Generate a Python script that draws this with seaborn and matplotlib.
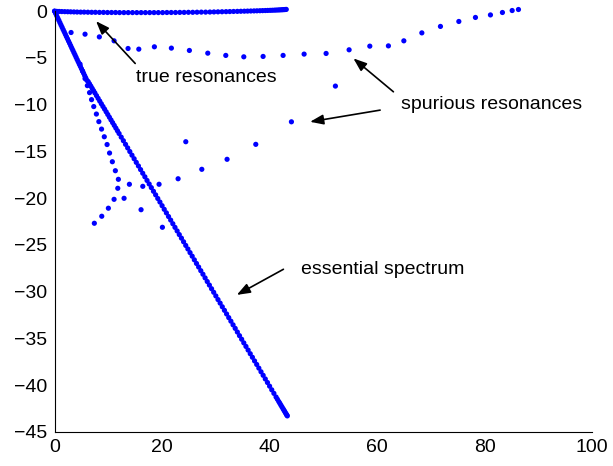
import numpy as np
import pandas as pd
import seaborn as sns
import matplotlib.pyplot as plt

# essential spectrum (dense ray from the origin)
ess_x = [0, 0.2, 0.4, 0.6, 0.8, 1.0, 1.2, 1.4, 1.6, 1.8, 2.0, 2.2, 2.4, 2.6, 2.8, 3.0,
         3.2, 3.4, 3.6, 3.8, 4.0, 4.2, 4.4, 4.6, 4.8, 5.0, 5.2, 5.4, 5.6, 5.8, 6.0,
         6.25, 6.5, 6.75, 7.0, 7.25, 7.5, 7.8, 8.1, 8.4, 8.7, 9.0, 9.3, 9.6, 9.9, 10.2,
         10.5, 10.8, 11.1, 11.4, 11.7, 12.0,
         12.4, 12.8, 13.2, 13.6, 14.0, 14.4, 14.8, 15.2, 15.6, 16.0, 16.4, 16.8, 17.2,
         17.6, 18.0, 18.4, 18.8, 19.2, 19.6, 20.0, 20.4, 20.8, 21.2, 21.6, 22.0, 22.4,
         22.8, 23.2, 23.6, 24.0, 24.4, 24.8, 25.2, 25.6, 26.0, 26.4, 26.8, 27.2, 27.6,
         28.0, 28.4, 28.8, 29.2, 29.6, 30.0, 30.4, 30.8, 31.2, 31.6, 32.0, 32.4, 32.8,
         33.2, 33.6, 34.0, 34.4, 34.8, 35.2, 35.6, 36.0, 36.4, 36.8, 37.2, 37.6, 38.0,
         38.4, 38.8, 39.2, 39.6, 40.0, 40.4, 40.8, 41.2,
         41.45, 41.7, 41.9, 42.1, 42.3, 42.5, 42.65, 42.8, 42.95, 43.1, 43.2, 43.3]
ess_y = [0, -0.25, -0.49, -0.74, -0.98, -1.23, -1.48, -1.72, -1.97, -2.21, -2.46, -2.71,
         -2.95, -3.2, -3.44, -3.69, -3.94, -4.18, -4.43, -4.67, -4.92, -5.17, -5.41,
         -5.66, -5.9, -6.15, -6.4, -6.64, -6.89, -7.13, -7.38,
         -7.53, -7.77, -8.01, -8.26, -8.50, -8.74, -9.03, -9.32, -9.61, -9.90, -10.19,
         -10.47, -10.76, -11.05, -11.34, -11.63, -11.92, -12.21, -12.50, -12.79, -13.08,
         -13.47, -13.85, -14.24, -14.62, -15.01, -15.40, -15.78, -16.17, -16.55, -16.94,
         -17.33, -17.71, -18.10, -18.48, -18.87, -19.26, -19.64, -20.03, -20.41, -20.80,
         -21.19, -21.57, -21.96, -22.34, -22.73, -23.12, -23.50, -23.89, -24.27, -24.66,
         -25.05, -25.43, -25.82, -26.20, -26.59, -26.98, -27.36, -27.75, -28.13, -28.52,
         -28.91, -29.29, -29.68, -30.06, -30.45, -30.84, -31.22, -31.61, -31.99, -32.38,
         -32.77, -33.15, -33.54, -33.92, -34.31, -34.70, -35.08, -35.47, -35.85, -36.24,
         -36.63, -37.01, -37.40, -37.78, -38.17, -38.56, -38.94, -39.33, -39.71, -40.10,
         -40.49, -40.87, -41.26,
         -41.50, -41.74, -41.93, -42.13, -42.32, -42.51, -42.66, -42.80, -42.95, -43.09,
         -43.19, -43.28]

# true resonances (just below the real axis)
true_x = [0, 0.4, 0.85, 1.35, 1.9, 2.45, 3.0, 3.6, 4.2, 4.85, 5.5, 6.2, 6.9, 7.6, 8.35,
          9.1, 9.85, 10.6, 11.35, 12.1, 12.9, 13.7, 14.5, 15.3, 16.1, 16.9, 17.7, 18.5,
          19.3, 20.1, 20.9, 21.7, 22.5, 23.3, 24.1, 24.9, 25.7, 26.5, 27.3, 28.1, 28.9,
          29.65, 30.4, 31.15, 31.9, 32.6, 33.3, 34.0, 34.65, 35.3, 35.9, 36.5, 37.1,
          37.65, 38.2, 38.7, 39.2, 39.65, 40.1, 40.5, 40.9, 41.25, 41.6, 41.9, 42.2,
          42.45, 42.7, 42.9, 43.1]
true_y = [0, -0.02, -0.03, -0.04, -0.05, -0.06, -0.07, -0.08, -0.09, -0.10, -0.10, -0.11,
          -0.12, -0.12, -0.13, -0.13, -0.14, -0.14, -0.14, -0.15, -0.15, -0.15, -0.15,
          -0.15, -0.15, -0.15, -0.15, -0.15, -0.15, -0.15, -0.14, -0.14, -0.14, -0.13,
          -0.13, -0.12, -0.12, -0.11, -0.10, -0.10, -0.09, -0.08, -0.07, -0.06, -0.05,
          -0.04, -0.03, -0.02, -0.01, 0.0, 0.01, 0.02, 0.03, 0.04, 0.05, 0.06, 0.07,
          0.08, 0.09, 0.10, 0.11, 0.12, 0.13, 0.14, 0.15, 0.16, 0.17, 0.18, 0.19]

# spurious resonances: upper arc, inner curve, scattered branch
spur_x = [3.07, 5.67, 8.33, 11.07, 13.67, 15.67, 18.57, 21.73, 25.08, 28.50, 31.85,
          35.20, 38.79, 42.51, 46.42, 50.51, 54.79, 58.64, 62.10, 64.97, 68.32, 71.78,
          75.20, 78.29, 81.08, 83.31, 85.12, 86.29,
          4.74, 5.21, 5.67, 6.10, 6.51, 6.88, 7.29, 7.78, 8.24, 8.74, 9.25, 9.77, 10.23,
          10.75, 11.31, 11.87, 11.76, 11.07, 10.01, 8.78, 7.40,
          12.93, 13.92, 16.09, 16.41, 19.44, 20.06, 22.98, 24.41, 27.39, 32.09, 37.43,
          44.06, 52.24]
spur_y = [-2.28, -2.46, -2.75, -3.17, -3.99, -4.06, -3.81, -3.95, -4.20, -4.49, -4.73,
          -4.88, -4.84, -4.73, -4.59, -4.52, -4.13, -3.74, -3.71, -3.17, -2.32, -1.63,
          -1.10, -0.67, -0.40, -0.14, 0.07, 0.18,
          -5.66, -6.41, -7.21, -7.96, -8.71, -9.46, -10.20, -11.00, -11.81, -12.61,
          -13.43, -14.26, -15.17, -16.10, -17.06, -17.98, -18.94, -20.12, -21.07,
          -21.93, -22.68,
          -20.01, -18.51, -21.23, -18.73, -18.51, -23.11, -17.92, -13.96, -16.91,
          -15.84, -14.24, -11.83, -8.01]

x_ticks = [0, 20, 40, 60, 80, 100]
y_ticks = [0, -5, -10, -15, -20, -25, -30, -35, -40, -45]

sns.set_style('white')
plt.rcParams['font.family'] = ['Liberation Sans', 'DejaVu Sans']
plt.rcParams['text.color'] = 'black'

fig = plt.figure(figsize=(6.13, 4.66), dpi=100)
ax = fig.add_axes([0.089, 0.073, 0.877, 0.903])

df = pd.concat([
    pd.DataFrame({'x': ess_x, 'y': ess_y}),
    pd.DataFrame({'x': true_x, 'y': true_y}),
    pd.DataFrame({'x': spur_x, 'y': spur_y}),
])
sns.scatterplot(data=df, x='x', y='y', color='#0000ff', s=14, linewidth=0,
                edgecolor='none', ax=ax, legend=False)
for c in ax.collections:
    c.set_clip_on(False)

ax.set_xlim(0, 100)
ax.set_ylim(-45, 0)
ax.set_xticks(x_ticks)
ax.set_yticks(y_ticks)
ax.set_xlabel('')
ax.set_ylabel('')
ax.tick_params(direction='in', length=5, width=0.8, labelsize=14, pad=5,
               colors='black')
sns.despine(ax=ax)
for sp in ['left', 'bottom']:
    ax.spines[sp].set_color('black')
    ax.spines[sp].set_linewidth(0.8)

arrow = dict(arrowstyle='-|>,head_length=0.8,head_width=0.3', color='black',
             lw=1.2, shrinkA=0, shrinkB=0)
ax.annotate('', xy=(7.72, -1.07), xytext=(15.0, -5.59), arrowprops=arrow)
ax.text(28.3, -7.05, 'true resonances', fontsize=14, ha='center', va='center',
        color='black')

ax.annotate('', xy=(55.59, -5.05), xytext=(63.03, -8.62), arrowprops=arrow)
ax.annotate('', xy=(47.53, -11.83), xytext=(60.56, -10.58), arrowprops=arrow)
ax.text(81.3, -9.94, 'spurious resonances', fontsize=14, ha='center', va='center',
        color='black')

ax.annotate('', xy=(33.9, -30.34), xytext=(42.57, -27.6), arrowprops=arrow)
ax.text(61.1, -27.67, 'essential spectrum', fontsize=14, ha='center', va='center',
        color='black')

fig.savefig('out.png', dpi=100)
